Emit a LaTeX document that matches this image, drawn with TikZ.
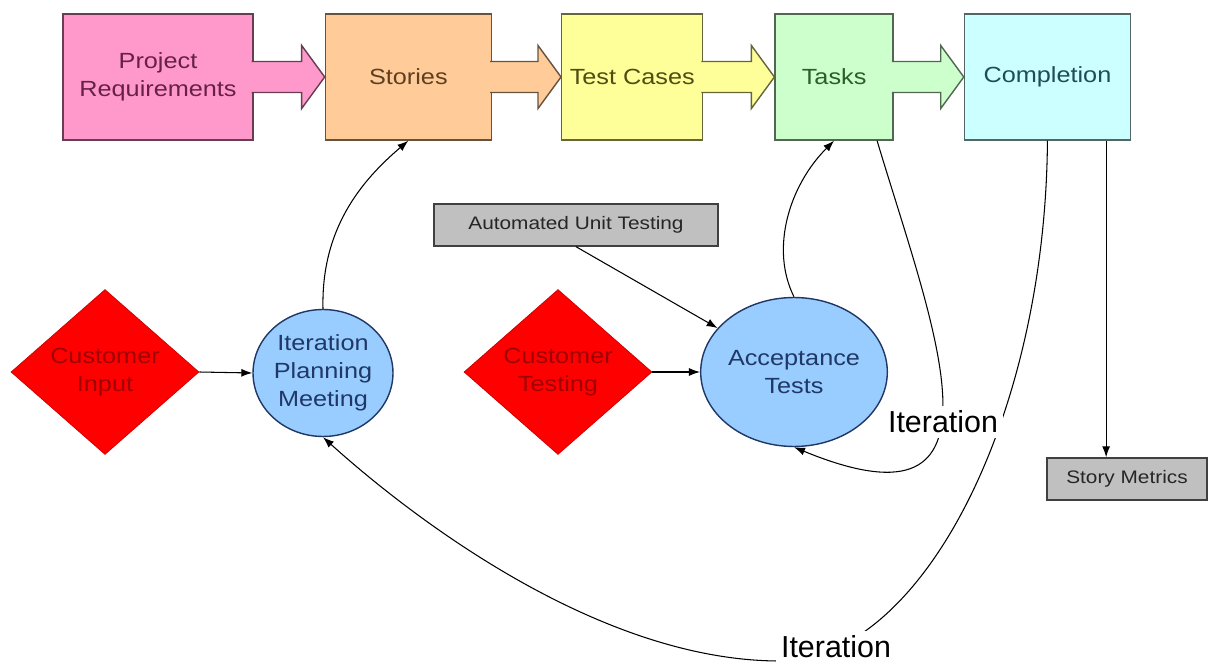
\documentclass[tikz,border=0pt]{standalone}
\usepackage{fontspec}
\setmainfont{Liberation Sans}[FakeStretch=1.15]
\newfontfamily\iterfont{Liberation Sans}
\usepackage{tikz}
\usetikzlibrary{arrows.meta,positioning,calc,shapes.geometric}
\definecolor{reqpink}{HTML}{FF99CC}
\definecolor{storypeach}{HTML}{FFCC99}
\definecolor{caseyellow}{HTML}{FFFF99}
\definecolor{taskgreen}{HTML}{CCFFCC}
\definecolor{donecyan}{HTML}{CCFFFF}
\definecolor{meetblue}{HTML}{99CCFF}
\definecolor{inputred}{HTML}{FF0000}
\definecolor{toolgray}{HTML}{C0C0C0}
\definecolor{reqtext}{HTML}{66204A}
\definecolor{storytext}{HTML}{5E3F1F}
\definecolor{casetext}{HTML}{4D4D14}
\definecolor{tasktext}{HTML}{2E5C2E}
\definecolor{donetext}{HTML}{1F4D57}
\definecolor{bluetext}{HTML}{1F3866}
\definecolor{redtext}{HTML}{A00000}

\begin{document}
\begin{tikzpicture}[
  x=0.02cm, y=-0.02cm,
  font=\fontsize{12.5}{15.9}\selectfont,
  stage/.style={line width=.8pt,minimum height=2.52cm,align=center,inner sep=2pt},
  dia/.style={diamond,draw=red!80!black,fill=inputred,text=redtext,minimum width=3.76cm,minimum height=3.3cm,inner sep=0pt,align=center},
  meet/.style={ellipse,draw=bluetext,line width=.8pt,fill=meetblue,text=bluetext,align=center,inner sep=0pt},
  tool/.style={draw=black!75,line width=.8pt,fill=toolgray,text=black!85,font=\fontsize{10.3}{12}\selectfont,minimum height=.84cm},
  blk/.style={line width=.8pt},
  arr/.style={-{Latex[length=2.2mm,width=1.6mm]},line width=.6pt,draw=black},
  lbl/.style={fill=white,inner sep=3pt,font=\iterfont\fontsize{17.3}{20}\selectfont}
]
\useasboundingbox (0,0) rectangle (1208,662);
% top row
\node[stage,draw=reqpink!40!black,fill=reqpink,text=reqtext,minimum width=3.8cm] (req) at (158,77) {Project\\Requirements};
\node[stage,draw=storypeach!40!black,fill=storypeach,text=storytext,minimum width=3.32cm,right=1.42cm of req] (stories) {Stories};
\node[stage,draw=caseyellow!40!black,fill=caseyellow,text=casetext,minimum width=2.82cm,right=1.38cm of stories] (cases) {Test Cases};
\node[stage,draw=taskgreen!40!black,fill=taskgreen,text=tasktext,minimum width=2.36cm,right=1.42cm of cases] (tasks) {Tasks};
\node[stage,draw=donecyan!40!black,fill=donecyan,text=donetext,minimum width=3.32cm,right=1.4cm of tasks] (done) {Completion};
% block arrows
\filldraw[blk,draw=reqpink!40!black,fill=reqpink] ($(req.east)+(-2,-15.5)$) -- ($(stories.west)+(-23,-15.5)$) -- ($(stories.west)+(-23,-31.5)$) -- (stories.west) -- ($(stories.west)+(-23,31.5)$) -- ($(stories.west)+(-23,15.5)$) -- ($(req.east)+(-2,15.5)$);
\filldraw[blk,draw=storypeach!40!black,fill=storypeach] ($(stories.east)+(-2,-15.5)$) -- ($(cases.west)+(-23,-15.5)$) -- ($(cases.west)+(-23,-31.5)$) -- (cases.west) -- ($(cases.west)+(-23,31.5)$) -- ($(cases.west)+(-23,15.5)$) -- ($(stories.east)+(-2,15.5)$);
\filldraw[blk,draw=caseyellow!40!black,fill=caseyellow] ($(cases.east)+(-2,-15.5)$) -- ($(tasks.west)+(-23,-15.5)$) -- ($(tasks.west)+(-23,-31.5)$) -- (tasks.west) -- ($(tasks.west)+(-23,31.5)$) -- ($(tasks.west)+(-23,15.5)$) -- ($(cases.east)+(-2,15.5)$);
\filldraw[blk,draw=taskgreen!40!black,fill=taskgreen] ($(tasks.east)+(-2,-15.5)$) -- ($(done.west)+(-23,-15.5)$) -- ($(done.west)+(-23,-31.5)$) -- (done.west) -- ($(done.west)+(-23,31.5)$) -- ($(done.west)+(-23,15.5)$) -- ($(tasks.east)+(-2,15.5)$);
% lower part
\node[dia] (custin) at (105,372) {Customer\\Input};
\node[meet,minimum width=2.8cm,minimum height=2.54cm] (ipm) at (323,373) {Iteration\\Planning\\Meeting};
\node[tool,minimum width=5.68cm] (unit) at (576,225) {Automated Unit Testing};
\node[dia] (custtest) at (558,372) {Customer\\Testing};
\node[meet,minimum width=3.24cm,minimum height=2.98cm] (accept) at (794,372) {Acceptance\\Tests};
\node[tool,minimum width=3.2cm] (metrics) at (1127,479) {Story Metrics};
\coordinate (low) at (780,661);
\draw[arr] (custin.east) -- (ipm.west);
\draw[arr] (custtest.east) -- (accept.west);
\draw[arr] (unit.south) -- (accept);
\draw[arr] (ipm.north) .. controls +(-2,-80) and +(-47,40) .. (stories.south);
\draw[arr] (accept.north) .. controls +(-24,-48) and +(-45,45) .. (tasks.south);
\draw[arr] ([xshift=0.86cm]tasks.south) .. controls +(57,190) and +(226,93) .. (accept.south);
\draw[arr] (done.south) .. controls +(-2,280) and +(140,0) .. (low) .. controls +(-180,0) and +(91,82) .. (ipm.south);
\draw[arr] ([xshift=-0.5cm]done.south east) -- ([xshift=-0.5cm]done.south east |- metrics.north);
\node[lbl] (iter1) at (943,422) {Iteration};
\node[lbl] (iter2) at (836,647) {Iteration};
\end{tikzpicture}
\end{document}
